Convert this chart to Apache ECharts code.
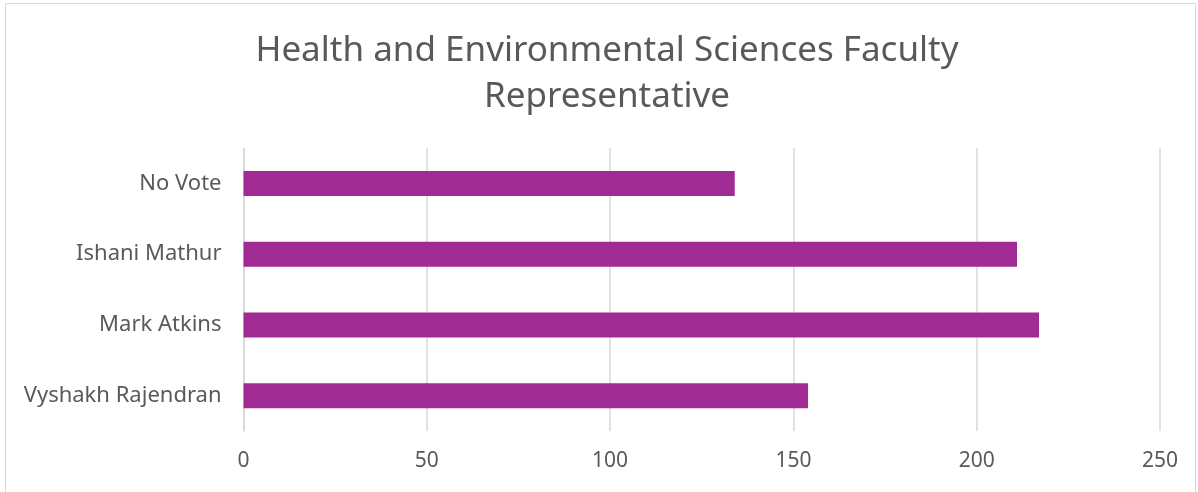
<!DOCTYPE html>
<html>
<head>
<meta charset="utf-8">
<script src="https://cdn.jsdelivr.net/npm/echarts@6/dist/echarts.min.js"></script>
<style>
html,body{margin:0;padding:0;background:#fff;}
#chart{width:1198px;height:492px;}
</style>
</head>
<body>
<div id="chart"></div>
<script>
const categories = ["Vyshakh Rajendran", "Mark Atkins", "Ishani Mathur", "No Vote"];
const votes = [154, 217, 211, 134];
const xTicks = [0, 50, 100, 150, 200, 250];
const titleText = "Health and Environmental Sciences Faculty\nRepresentative";

const chart = echarts.init(document.getElementById('chart'));
chart.setOption({
  backgroundColor: '#ffffff',
  animation: false,
  title: {
    text: titleText,
    left: 602,
    top: 23,
    textAlign: 'center',
    textStyle: {
      fontFamily: 'Noto Sans',
      fontSize: 35,
      fontWeight: 'normal',
      color: '#595959',
      lineHeight: 46
    }
  },
  graphic: [{
    type: 'rect',
    shape: {x: 5.5, y: 3.5, width: 1190, height: 500},
    style: {fill: 'none', stroke: '#d9d9d9', lineWidth: 1},
    silent: true
  }],
  grid: {left: 243.5, right: 38, top: 148, bottom: 61, containLabel: false},
  xAxis: {
    type: 'value',
    min: xTicks[0],
    max: xTicks[xTicks.length - 1],
    interval: 50,
    axisLine: {show: false},
    axisTick: {show: false},
    splitLine: {show: true, lineStyle: {color: '#d9d9d9', width: 1.5}},
    axisLabel: {
      fontFamily: 'Noto Sans',
      fontSize: 21,
      color: '#595959',
      margin: 20
    }
  },
  yAxis: {
    type: 'category',
    data: categories,
    axisLine: {show: true, lineStyle: {color: '#d9d9d9', width: 1.5}},
    axisTick: {show: false},
    axisLabel: {
      fontFamily: 'Noto Sans',
      fontSize: 22,
      color: '#595959',
      margin: 22
    }
  },
  series: [{
    type: 'bar',
    data: votes,
    barWidth: 25,
    itemStyle: {color: '#A02B93'}
  }]
});
</script>
</body>
</html>
